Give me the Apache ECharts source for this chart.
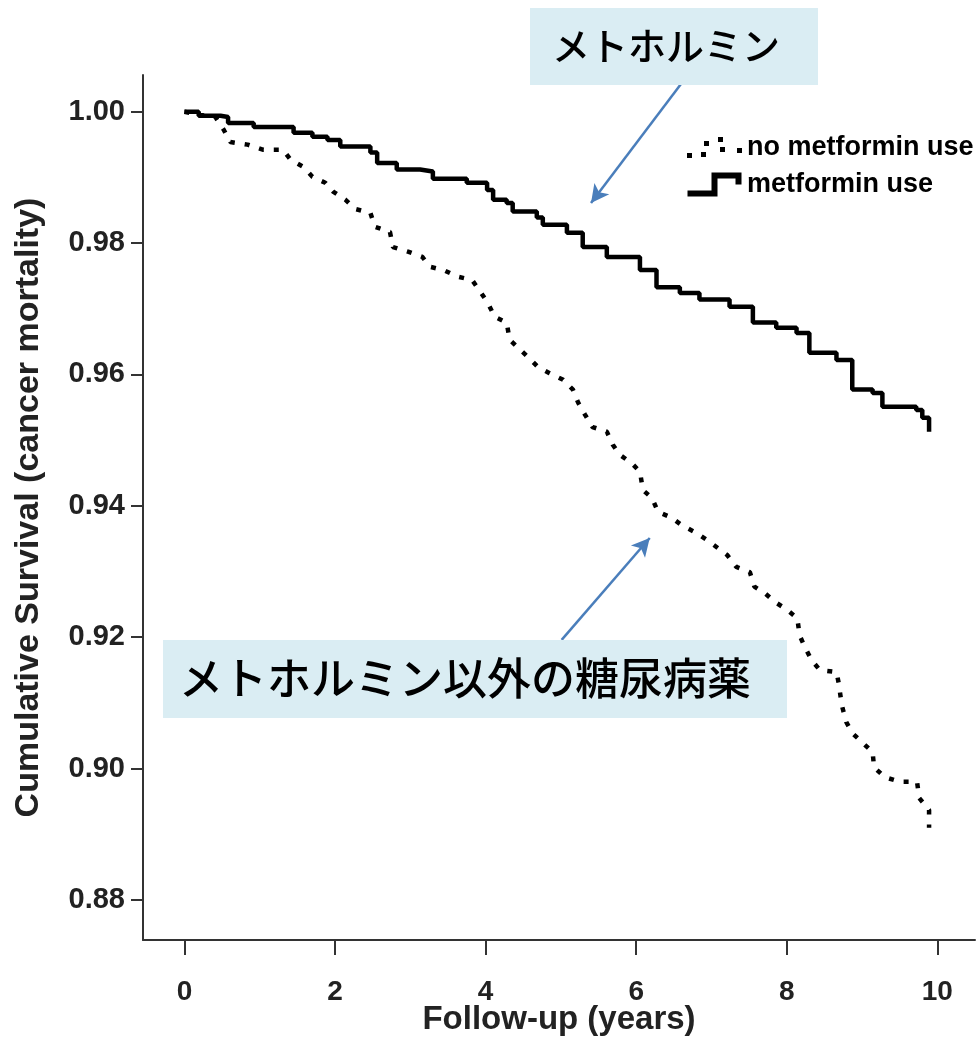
<!DOCTYPE html>
<html>
<head>
<meta charset="utf-8">
<script src="https://cdn.jsdelivr.net/npm/echarts@6/dist/echarts.min.js"></script>
<style>
  html, body { margin: 0; padding: 0; background: #fff; }
  #chart { width: 979px; height: 1037px; }
</style>
</head>
<body>
<div id="chart"></div>
<script>
// Kaplan-Meier curves (years, cumulative survival)
var metforminTime = [0, 0.19, 0.48, 0.58, 0.92, 1.31, 1.45, 1.70, 1.90, 2.07, 2.47, 2.56, 2.82, 3.13, 3.30, 3.75, 4.02, 4.10, 4.28, 4.36, 4.68, 4.76, 5.08, 5.29, 5.61, 6.05, 6.27, 6.58, 6.84, 7.24, 7.55, 7.86, 8.13, 8.30, 8.66, 8.87, 9.14, 9.27, 9.72, 9.80, 9.89];
var metforminSurv = [1.000, 0.9994, 0.9992, 0.9983, 0.9977, 0.9977, 0.9968, 0.9962, 0.9957, 0.9947, 0.9938, 0.9922, 0.9912, 0.9909, 0.9898, 0.9892, 0.9881, 0.9866, 0.9861, 0.9848, 0.9839, 0.9828, 0.9816, 0.9794, 0.9779, 0.9759, 0.9733, 0.9724, 0.9714, 0.9703, 0.9679, 0.9671, 0.9663, 0.9633, 0.9622, 0.9577, 0.9572, 0.9551, 0.9546, 0.9534, 0.9513];

var noMetforminTime = [0, 0.21, 0.41, 0.52, 0.61, 0.84, 1.05, 1.31, 1.41, 1.58, 1.70, 1.87, 1.98, 2.14, 2.27, 2.47, 2.53, 2.73, 2.77, 2.97, 3.16, 3.26, 3.44, 3.63, 3.82, 3.93, 4.03, 4.12, 4.28, 4.32, 4.43, 4.56, 4.69, 4.85, 5.03, 5.16, 5.23, 5.32, 5.42, 5.61, 5.69, 5.78, 5.94, 6.05, 6.09, 6.21, 6.29, 6.47, 6.60, 6.78, 6.94, 7.07, 7.21, 7.33, 7.51, 7.57, 7.71, 7.84, 8.00, 8.14, 8.17, 8.24, 8.33, 8.44, 8.66, 8.69, 8.73, 8.79, 8.87, 9.01, 9.14, 9.16, 9.30, 9.50, 9.73, 9.76, 9.89, 9.89];
var noMetforminSurv = [1.000, 0.9995, 0.9992, 0.9973, 0.9954, 0.9950, 0.9942, 0.9942, 0.9927, 0.9916, 0.9901, 0.9892, 0.9878, 0.9866, 0.9852, 0.9846, 0.9825, 0.9817, 0.9794, 0.9787, 0.9779, 0.9764, 0.9759, 0.9749, 0.9744, 0.9726, 0.9709, 0.9688, 0.9679, 0.9653, 0.9641, 0.9627, 0.9612, 0.9602, 0.9592, 0.9577, 0.9557, 0.9539, 0.9520, 0.9513, 0.9493, 0.9478, 0.9465, 0.9452, 0.9424, 0.9412, 0.9391, 0.9382, 0.9371, 0.9360, 0.9348, 0.9337, 0.9325, 0.9307, 0.9299, 0.9277, 0.9267, 0.9254, 0.9242, 0.9229, 0.9203, 0.9185, 0.9165, 0.9150, 0.9147, 0.9130, 0.9097, 0.9071, 0.9054, 0.9039, 0.9025, 0.9002, 0.8987, 0.8980, 0.8980, 0.8955, 0.8937, 0.8910];

var xTicks = [0, 2, 4, 6, 8, 10];
var yTicks = [0.88, 0.90, 0.92, 0.94, 0.96, 0.98, 1.00];

// annotation arrows, in data coordinates
var arrowMetformin = [[6.60, 1.0043], [5.40, 0.9861]];
var arrowOther = [[5.01, 0.9196], [6.18, 0.9351]];

function pairs(xs, ys) {
  return xs.map(function (x, i) { return [x, ys[i]]; });
}

var bold = "'Liberation Sans', Arial, sans-serif";
var jp = "'Noto Sans CJK JP', sans-serif";
var arrowBlue = "#4a7ebb";
var boxBlue = "#daedf3";

var chart = echarts.init(document.getElementById("chart"));
var option = {
  animation: false,
  backgroundColor: "#fff",
  grid: { left: 143, right: 4, top: 75, bottom: 97, containLabel: false, outerBoundsMode: "none" },
  legend: {
    orient: "vertical",
    left: 682,
    top: 129,
    itemWidth: 55,
    itemHeight: 24,
    itemGap: 10,
    textStyle: { fontFamily: bold, fontWeight: "bold", fontSize: 27, color: "#000" },
    data: [
      { name: "no metformin use",
        icon: "path://M0,18h5v5h-5z M14,17h5v5h-5z M17,6h5v5h-5z M31,2h5v5h-5z M33,12h5v5h-5z M50,13h5v5h-5z",
        itemStyle: { color: "#000" } },
      { name: "metformin use",
        icon: "path://M0,18H24V0H54V12H48V6H30V24H0Z",
        itemStyle: { color: "#000" } }
    ]
  },
  xAxis: {
    type: "value",
    min: -0.55,
    max: 10.5,
    name: "Follow-up (years)",
    nameLocation: "middle",
    nameGap: 63,
    nameMoveOverlap: false,
    nameTextStyle: { fontFamily: bold, fontWeight: "bold", fontSize: 33, color: "#222" },
    axisLine: { show: true, onZero: false, lineStyle: { color: "#333", width: 2 } },
    axisTick: { show: true, length: 15, customValues: xTicks, lineStyle: { color: "#333", width: 2 } },
    axisLabel: { customValues: xTicks, margin: 38, fontFamily: bold, fontWeight: "bold", fontSize: 28, color: "#222" },
    splitLine: { show: false }
  },
  yAxis: {
    type: "value",
    min: 0.8739,
    max: 1.0056,
    name: "Cumulative Survival (cancer mortality)",
    nameLocation: "middle",
    nameGap: 97,
    nameMoveOverlap: false,
    nameTextStyle: { fontFamily: bold, fontWeight: "bold", fontSize: 34, color: "#222" },
    axisLine: { show: true, onZero: false, lineStyle: { color: "#333", width: 2 } },
    axisTick: { show: true, length: 12, customValues: yTicks, lineStyle: { color: "#333", width: 2 } },
    axisLabel: {
      customValues: yTicks, margin: 18, fontFamily: bold, fontWeight: "bold", fontSize: 29, color: "#222",
      formatter: function (v) { return v.toFixed(2); }
    },
    splitLine: { show: false }
  },
  graphic: [
    { type: "rect", shape: { x: 530, y: 8, width: 288, height: 77 }, style: { fill: boxBlue }, z: 10 },
    { type: "text", left: 552, top: 27, style: { text: "メトホルミン", font: "500 38px " + jp, fill: "#000" }, z: 11 },
    { type: "rect", shape: { x: 163, y: 640, width: 624, height: 78 }, style: { fill: boxBlue }, z: 10 },
    { type: "text", left: 179, top: 656, style: { text: "メトホルミン以外の糖尿病薬", font: "500 44px " + jp, fill: "#000" }, z: 11 }
  ],
  series: [
    {
      name: "no metformin use",
      type: "line",
      data: pairs(noMetforminTime, noMetforminSurv),
      showSymbol: false,
      lineStyle: { color: "#000", width: 4.5, type: [5, 10], cap: "butt" },
      itemStyle: { color: "#000" },
      z: 3
    },
    {
      name: "metformin use",
      type: "line",
      step: "end",
      data: pairs(metforminTime, metforminSurv),
      showSymbol: false,
      lineStyle: { color: "#000", width: 4.5 },
      itemStyle: { color: "#000" },
      z: 3,
      markLine: {
        silent: true,
        symbol: ["none", "arrow"],
        symbolSize: [14, 18],
        label: { show: false },
        lineStyle: { color: arrowBlue, width: 2.5, type: "solid" },
        data: [
          [{ coord: arrowMetformin[0] }, { coord: arrowMetformin[1] }],
          [{ coord: arrowOther[0] }, { coord: arrowOther[1] }]
        ]
      }
    }
  ]
};
chart.setOption(option);
window.addEventListener("resize", function () { chart.resize(); });
</script>
</body>
</html>
